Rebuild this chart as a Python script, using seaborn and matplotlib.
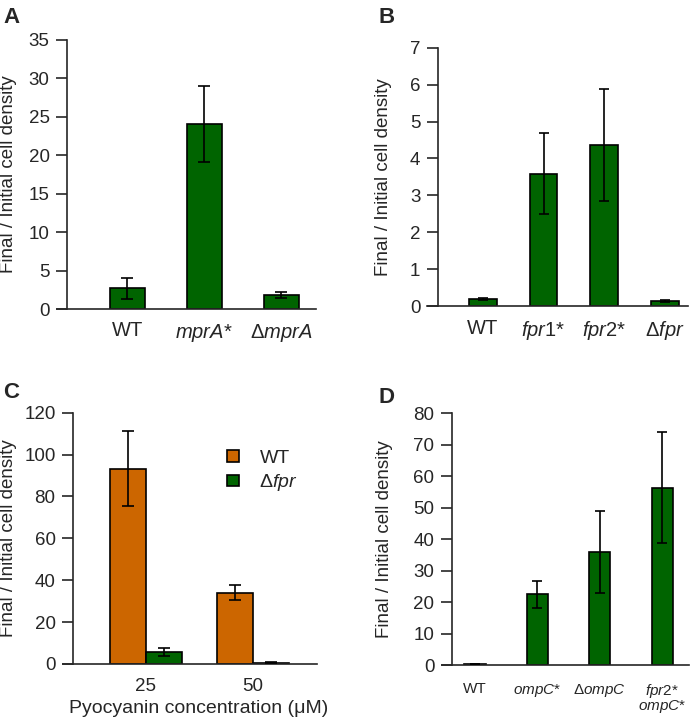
import matplotlib
matplotlib.use("Agg")
import matplotlib.pyplot as plt
import seaborn as sns
import pandas as pd

sns.set_style("ticks")
plt.rcParams["font.family"] = ["Liberation Sans", "DejaVu Sans"]
plt.rcParams["mathtext.fontset"] = "custom"
plt.rcParams["mathtext.rm"] = "Liberation Sans"
plt.rcParams["mathtext.it"] = "Liberation Sans:italic"

GREEN = "#006400"; ORANGE = "#cc6600"
YLABEL = "Final / Initial cell density"

# ── data ────────────────────────────────────────────────
a_strains = ["WT", "mprA*", "dmprA"]
a_labels  = ["WT", r"$\mathit{mprA}$*", r"Δ$\mathit{mprA}$"]
a_mean    = [2.7, 24.1, 1.8]
a_sd      = [1.35, 4.95, 0.38]

b_strains = ["WT", "fpr1*", "fpr2*", "dfpr"]
b_labels  = ["WT", r"$\mathit{fpr}$1*", r"$\mathit{fpr}$2*", r"Δ$\mathit{fpr}$"]
b_mean    = [0.19, 3.59, 4.36, 0.13]
b_sd      = [0.04, 1.09, 1.51, 0.02]

c_conc    = ["25", "25", "50", "50"]
c_geno    = ["WT", "dfpr", "WT", "dfpr"]
c_geno_labels = ["WT", r"Δ$\mathit{fpr}$"]
c_mean    = [93.3, 5.6, 34.0, 0.6]
c_sd      = [17.8, 2.0, 3.5, 0.3]

d_strains = ["WT", "ompC*", "dompC", "fpr2*ompC*"]
d_labels  = ["WT", r"$\mathit{ompC}$*", r"Δ$\mathit{ompC}$", "$\\mathit{fpr2}$*\n$\\mathit{ompC}$*"]
d_mean    = [0.3, 22.5, 35.9, 56.4]
d_sd      = [0.1, 4.3, 13.1, 17.5]

W, H = 691, 723
fig = plt.figure(figsize=(W/100, H/100), dpi=100)

def rect(l, t, r, b):
    return [l/W, 1-b/H, (r-l)/W, (b-t)/H]

def style(ax, xlim, spine_x, ylim, yticks, label_x, xfs=14.5):
    ax.set_xlim(*xlim); ax.set_ylim(*ylim)
    ax.set_yticks(yticks)
    for s in ("top", "right"): ax.spines[s].set_visible(False)
    ax.spines["left"].set_position(("data", spine_x))
    ax.spines["left"].set_bounds(ylim[0], ylim[1])
    for s in ("left", "bottom"): ax.spines[s].set_linewidth(1.2)
    ax.tick_params(axis="y", length=7.6, width=1.2, pad=5, labelsize=13.5, direction="out")
    ax.tick_params(axis="x", length=0, pad=9, labelsize=xfs)
    ax.set_xlabel("")
    ax.set_ylabel(YLABEL, fontsize=13.5)
    ax.yaxis.set_label_coords(label_x, 0.5)

def errbars(ax, means, sds, cap=4):
    xs = [p.get_x()+p.get_width()/2 for c in ax.containers for p in c]
    ax.errorbar(xs, means, yerr=sds, fmt="none", ecolor="black",
                elinewidth=1.2, capsize=cap, capthick=1.2, zorder=5)

# ── A ───────────────────────────────────────────────────
ax = fig.add_axes(rect(57, 40, 316, 309))
sns.barplot(x=a_strains, y=a_mean, color=GREEN, width=0.455, edgecolor="black",
            linewidth=1.2, errorbar=None, saturation=1, ax=ax)
errbars(ax, a_mean, a_sd)
ax.set_xticks(range(len(a_labels)), a_labels)
style(ax, (-0.91, 2.45), -0.78, (0, 35), range(0, 36, 5), -0.154)

# ── B ───────────────────────────────────────────────────
ax = fig.add_axes(rect(427, 47.7, 688, 306))
sns.barplot(x=b_strains, y=b_mean, color=GREEN, width=0.46, edgecolor="black",
            linewidth=1.2, errorbar=None, saturation=1, ax=ax)
errbars(ax, b_mean, b_sd, cap=3.6)
ax.set_xticks(range(len(b_labels)), b_labels)
style(ax, (-0.92, 3.38), -0.74, (0, 7), range(0, 8), -0.134)

# ── C ───────────────────────────────────────────────────
ax = fig.add_axes(rect(63, 412.7, 317, 664))
dfc = pd.DataFrame({"conc": c_conc, "geno": c_geno, "val": c_mean, "sd": c_sd})
sns.barplot(data=dfc, x="conc", y="val", hue="geno", palette=[ORANGE, GREEN],
            width=0.67, edgecolor="black", linewidth=1.2, errorbar=None,
            saturation=1, legend=False, ax=ax)
# containers are ordered by hue level, then by category
order = dfc.sort_values(["geno"], key=lambda s: s.map({"WT": 0, "dfpr": 1}), kind="stable")
errbars(ax, order["val"].tolist(), order["sd"].tolist())
style(ax, (-0.776, 1.6), -0.682, (0, 120), range(0, 121, 20), -0.181, xfs=13.5)
ax.tick_params(axis="x", pad=10)
ax.set_xlabel("Pyocyanin concentration (μM)", fontsize=14)
ax.xaxis.set_label_coords(0.533, -0.145)
ax.legend(ax.containers, c_geno_labels, frameon=False, fontsize=14,
          loc="upper left", bbox_to_anchor=(227/W, 1-450/H), bbox_transform=fig.transFigure,
          handlelength=0.62, handleheight=0.55, handletextpad=1.05, labelspacing=0.28,
          borderpad=0, borderaxespad=0)

# ── D ───────────────────────────────────────────────────
ax = fig.add_axes(rect(442, 413.3, 689, 665))
sns.barplot(x=d_strains, y=d_mean, color=GREEN, width=0.34, edgecolor="black",
            linewidth=1.2, errorbar=None, saturation=1, ax=ax)
errbars(ax, d_mean, d_sd, cap=3.6)
style(ax, (-0.53, 3.43), -0.37, (0, 80), range(0, 81, 10), -0.198)
ax.set_xticks(range(len(d_labels)), d_labels, fontsize=11, linespacing=0.85)
ax.tick_params(axis="x", pad=12)

# ── panel letters ───────────────────────────────────────
for x, y, t in [(3, 7, "A"), (378, 7, "B"), (3, 382, "C"), (378, 387, "D")]:
    fig.text(x/W, 1-y/H, t, fontsize=16, fontweight="bold", va="top", ha="left")

fig.savefig("out.png", dpi=100)
